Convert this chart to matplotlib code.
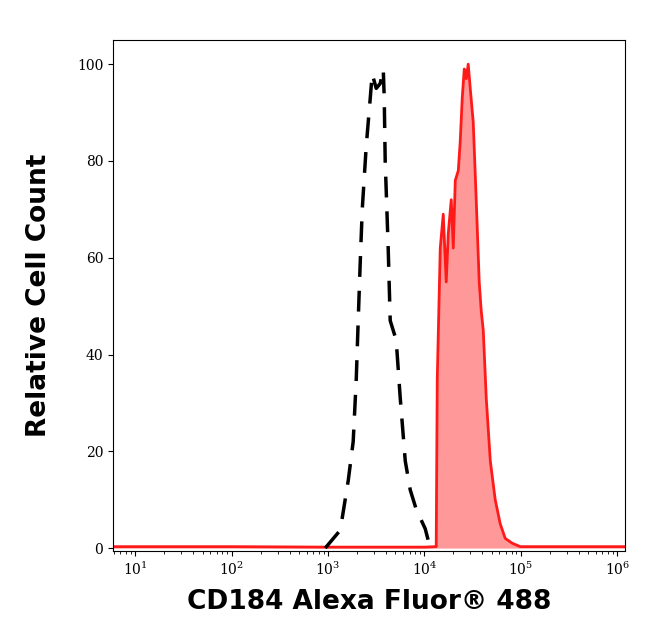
import numpy as np
import matplotlib
matplotlib.use("Agg")
import matplotlib.pyplot as plt

iso_logx = [2.971, 3.127, 3.21, 3.261, 3.293, 3.313, 3.334, 3.355, 3.396, 3.438, 3.458, 3.5, 3.541,
            3.573, 3.583, 3.593, 3.624, 3.645, 3.707, 3.749, 3.801, 3.853, 3.915, 4.008, 4.06]
iso_y = [0, 3.7, 14, 22, 35, 47, 59, 70, 83, 93, 98, 95, 96, 99, 93, 80, 62, 47, 43, 31, 18, 12, 8, 4, 0]

cd_logx = [0.77, 2.0, 3.0, 4.0, 4.122, 4.133, 4.164, 4.195, 4.226, 4.247, 4.278, 4.299, 4.32, 4.351, 4.371,
           4.392, 4.413, 4.434, 4.454, 4.475, 4.506, 4.537, 4.568, 4.589, 4.61, 4.641, 4.683,
           4.734, 4.786, 4.838, 4.911, 4.994, 5.2, 5.6, 6.08]
cd_y = [0.3, 0.3, 0.2, 0.2, 0.3, 35, 62, 69, 55, 65, 72, 62, 76, 78, 84, 93, 99, 97, 100, 95, 88,
        72, 55, 49, 45, 31, 18, 10, 5, 2, 1, 0.3, 0.3, 0.3, 0.3]

fig = plt.figure(figsize=(6.46, 6.41), dpi=100)
ax = fig.add_axes([113/646, 1-551/641, 512/646, 511/641])
xi = 10**np.array(iso_logx)
xc = 10**np.array(cd_logx)
ax.fill_between(xc, cd_y, color="#ff9999", lw=0)
ax.plot(xc, cd_y, color="#ff1a1a", lw=2)
ax.plot(xi, iso_y, color="black", lw=2.5, ls=(0, (6, 4)))
ax.set_xscale("log")
ax.set_xlim(10**0.77, 10**6.08)
ax.set_ylim(-0.6, 105)
ax.set_yticks([0, 20, 40, 60, 80, 100])
for lab in ax.get_xticklabels() + ax.get_yticklabels():
    lab.set_family("DejaVu Serif")
ax.tick_params(labelsize=10)
ax.set_xlabel("CD184 Alexa Fluor® 488", fontsize=19, fontweight="bold", labelpad=8)
ax.set_ylabel("Relative Cell Count", fontsize=19, fontweight="bold", labelpad=18)
fig.savefig("out.png", dpi=100)
